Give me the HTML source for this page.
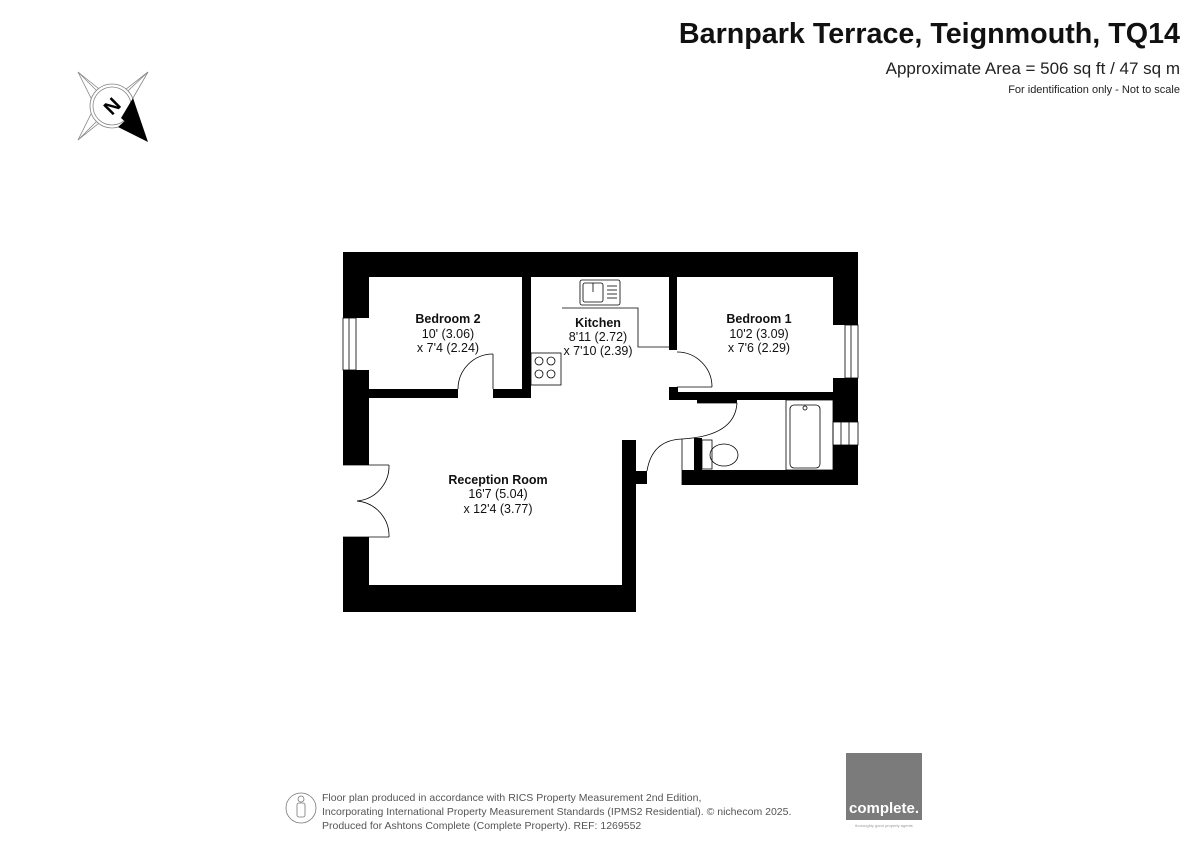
<!DOCTYPE html>
<html><head><meta charset="utf-8"><style>
body{margin:0;background:#fff;width:1200px;height:849px;overflow:hidden;font-family:"Liberation Sans",Arial,sans-serif}
</style></head><body>
<svg width="1200" height="849" viewBox="0 0 1200 849" xmlns="http://www.w3.org/2000/svg" font-family="Liberation Sans, Arial, sans-serif">
<rect width="1200" height="849" fill="#fff"/>
<text x="1180" y="43" text-anchor="end" font-size="28.7" font-weight="bold" fill="#111">Barnpark Terrace, Teignmouth, TQ14</text>
<text x="1180" y="74" text-anchor="end" font-size="17" fill="#222">Approximate Area = 506 sq ft / 47 sq m</text>
<text x="1180" y="93" text-anchor="end" font-size="11" fill="#222">For identification only - Not to scale</text>
<!-- compass -->
<g stroke="#888" stroke-width="0.8" fill="none">
<polygon points="78,72 104,93 112,106 91,98"/>
<polygon points="148,72 121,93 112,106 133,98"/>
<polygon points="78,140 104,119 112,106 91,114"/>
<line x1="78" y1="72" x2="112" y2="106"/><line x1="148" y1="72" x2="112" y2="106"/><line x1="78" y1="140" x2="112" y2="106"/>
<circle cx="112" cy="106" r="22" fill="#fff"/><circle cx="112" cy="106" r="19"/>
</g>
<polygon points="148,142 118,127 128,118" fill="#000"/>
<polygon points="148,142 133,98 121,118" fill="#000"/>
<text x="112" y="113" text-anchor="middle" font-size="20" font-weight="bold" transform="rotate(-45 112 106)">N</text>
<!-- walls -->
<g fill="#000">
<rect x="343" y="252" width="515" height="25"/>
<rect x="343" y="252" width="26" height="66"/>
<polygon points="343,318 356,318 369,300 369,318"/>
<rect x="343" y="370" width="26" height="95"/>
<polygon points="343,370 369,370 369,388 356,378"/>
<rect x="343" y="537" width="26" height="75"/>
<polygon points="356,537 369,548 369,537"/>
<rect x="343" y="585" width="293" height="27"/>
<rect x="622" y="440" width="14" height="172"/>
<rect x="631" y="471" width="16" height="13"/>
<rect x="369" y="389" width="89" height="9"/>
<rect x="493" y="389" width="38" height="9"/>
<rect x="522" y="277" width="9" height="121"/>
<rect x="669" y="277" width="8" height="73"/>
<rect x="669" y="387" width="9" height="13"/>
<rect x="669" y="392" width="189" height="8"/>
<rect x="697" y="400" width="40" height="3"/>
<rect x="833" y="252" width="25" height="73"/>
<polygon points="833,310 833,325 846,325"/>
<rect x="833" y="378" width="25" height="44"/>
<polygon points="833,392 846,378 858,378 858,392"/>
<rect x="833" y="445" width="25" height="40"/>
<rect x="682" y="470" width="176" height="15"/>
<rect x="694" y="438" width="8" height="32"/>
</g>
<g fill="none" stroke="#000" stroke-width="0.8">
<rect x="343" y="318" width="13" height="52"/><line x1="349" y1="318" x2="349" y2="370"/>
<rect x="845" y="325" width="13" height="53"/><line x1="851" y1="325" x2="851" y2="378"/>
<rect x="833" y="422" width="25" height="23"/><line x1="841" y1="422" x2="841" y2="445"/><line x1="849" y1="422" x2="849" y2="445"/>
<line x1="493" y1="389" x2="493" y2="354"/><path d="M493,354 A35,35 0 0 0 458,389"/>
<line x1="677" y1="387" x2="712" y2="387"/><path d="M677,352 A35,35 0 0 1 712,387"/>
<line x1="697" y1="403" x2="737" y2="403"/><path d="M737,403 Q735,436 682,439"/>
<line x1="682" y1="439" x2="682" y2="485"/><path d="M682,439 Q652,440 647,471"/>
<line x1="343" y1="465" x2="389" y2="465"/><path d="M389,465 A35,35 0 0 1 357,501"/>
<line x1="343" y1="537" x2="389" y2="537"/><path d="M389,537 A35,35 0 0 0 357,501"/>
<polyline points="562,308 638,308 638,347 669,347"/>
<rect x="580" y="280" width="40" height="25" rx="2"/><rect x="583" y="283" width="20" height="19" rx="2"/>
<line x1="607" y1="286" x2="617" y2="286"/><line x1="607" y1="290" x2="617" y2="290"/><line x1="607" y1="294" x2="617" y2="294"/><line x1="607" y1="298" x2="617" y2="298"/>
<line x1="593" y1="283" x2="593" y2="292"/>
<rect x="531" y="353" width="30" height="32"/>
<circle cx="539" cy="361" r="4"/><circle cx="551" cy="361" r="4"/><circle cx="539" cy="374" r="4"/><circle cx="551" cy="374" r="4"/>
<rect x="786" y="400" width="47" height="70"/>
<rect x="790" y="405" width="30" height="63" rx="4"/>
<circle cx="805" cy="408" r="2"/>
<rect x="702" y="440" width="10" height="29"/>
<ellipse cx="724" cy="455" rx="14" ry="11"/>
</g>
<g text-anchor="middle" font-size="12.5" fill="#111">
<text x="448" y="323" font-weight="bold">Bedroom 2</text><text x="448" y="338">10' (3.06)</text><text x="448" y="352">x 7'4 (2.24)</text>
<text x="598" y="327" font-weight="bold">Kitchen</text><text x="598" y="341">8'11 (2.72)</text><text x="598" y="355">x 7'10 (2.39)</text>
<text x="759" y="323" font-weight="bold">Bedroom 1</text><text x="759" y="338">10'2 (3.09)</text><text x="759" y="352">x 7'6 (2.29)</text>
<text x="498" y="484" font-weight="bold">Reception Room</text><text x="498" y="498">16'7 (5.04)</text><text x="498" y="513">x 12'4 (3.77)</text>
</g>
<g fill="none" stroke="#777" stroke-width="0.8">
<circle cx="301" cy="808" r="15"/><circle cx="301" cy="799" r="3"/><rect x="297" y="803" width="8" height="14" rx="2"/>
</g>
<g font-size="10.5" fill="#555">
<text x="322" y="801">Floor plan produced in accordance with RICS Property Measurement 2nd Edition,</text>
<text x="322" y="815">Incorporating International Property Measurement Standards (IPMS2 Residential).   © nichecom 2025.</text>
<text x="322" y="829">Produced for Ashtons Complete (Complete Property).   REF: 1269552</text>
</g>
<rect x="846" y="753" width="76" height="67" fill="#7b7b7b"/>
<text x="884" y="813" text-anchor="middle" font-size="15" font-weight="bold" fill="#fff">complete.</text>
<text x="884" y="827" text-anchor="middle" font-size="4" fill="#999">thoroughly good property agents</text>
</svg>
</body></html>
